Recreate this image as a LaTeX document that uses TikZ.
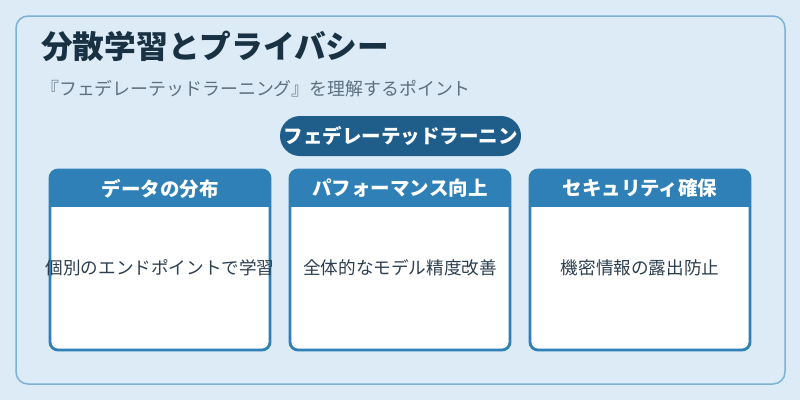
\documentclass[tikz,border=0pt]{standalone}
\usepackage{fontspec}
\setmainfont{Noto Sans CJK JP}
\definecolor{bgc}{RGB}{220,235,246}
\definecolor{panelline}{RGB}{125,178,212}
\definecolor{titlec}{RGB}{24,50,68}
\definecolor{subc}{RGB}{93,112,128}
\definecolor{pillc}{RGB}{31,93,138}
\definecolor{cardc}{RGB}{46,128,182}
\definecolor{bodyc}{RGB}{44,62,80}
\tikzset{
  cardtitle/.style={text=white, font=\fontsize{19.5}{22}\selectfont\bfseries, anchor=center, inner sep=0pt},
  cardbody/.style={text=bodyc, font=\fontsize{17.6}{20}\selectfont, anchor=center, inner sep=0pt},
}
\newcommand{\mycard}[5]{%
  % #1 name, #2 left x, #3 right x, #4 title, #5 body
  \fill[white, rounded corners=8pt] (#2,170) rectangle (#3,350);
  \begin{scope}
    \clip[rounded corners=8pt] (#2,170) rectangle (#3,350);
    \fill[cardc] (#2,170) rectangle (#3,207);
  \end{scope}
  \draw[cardc, line width=2.8pt, rounded corners=8pt] (#2,170) rectangle (#3,350);
  \node[cardtitle] (#1t) at ({(#2+#3)/2},188.5) {#4};
  \node[cardbody] (#1b) at ({(#2+#3)/2},268) {#5};
}
\begin{document}
\begin{tikzpicture}[x=1pt,y=-1pt]
\useasboundingbox (0,0) rectangle (800,400);
\fill[bgc] (0,0) rectangle (800,400);
\draw[panelline, line width=1.5pt, rounded corners=12pt] (16,16) rectangle (785,384);
\node[anchor=west, inner sep=0pt, text=titlec, font=\fontsize{31.7}{34}\selectfont\bfseries] (title) at (41,46) {分散学習とプライバシー};
\node[anchor=west, inner sep=0pt, text=subc, font=\fontsize{17.9}{20}\selectfont] (sub) at (41,89) {『フェデレーテッドラーニング』を理解するポイント};
\fill[pillc, rounded corners=20pt] (280,116) rectangle (521,156);
\node[inner sep=0pt, text=white, font=\fontsize{19.5}{22}\selectfont\bfseries] (pill) at (400.5,136) {フェデレーテッドラーニン};
\mycard{c1}{50}{270}{データの分布}{個別のエンドポイントで学習}
\mycard{c2}{290}{510}{パフォーマンス向上}{全体的なモデル精度改善}
\mycard{c3}{530}{750}{セキュリティ確保}{機密情報の露出防止}
\end{tikzpicture}
\end{document}
